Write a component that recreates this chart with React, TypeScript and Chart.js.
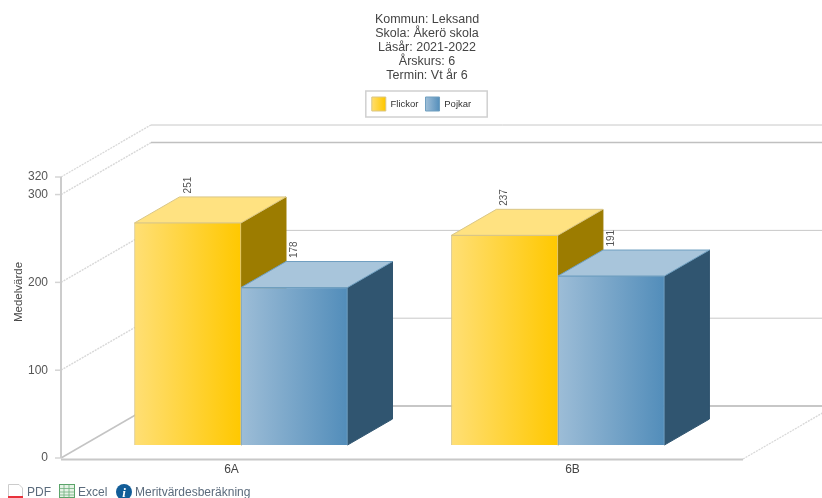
import React, { useEffect, useRef } from "react";
import { Chart, registerables, layouts } from "chart.js";

Chart.register(...registerables);

const categories = ["6A", "6B"];
const flickor = [251, 237];
const pojkar = [178, 191];
const yTickValues = [0, 100, 200, 300, 320];
const titleLines = ["Kommun: Leksand", "Skola: Åkerö skola", "Läsår: 2021-2022", "Årskurs: 6", "Termin: Vt år 6"];
const yAxisTitle = "Medelvärde";
const seriesNames = ["Flickor", "Pojkar"];

const FONT = "'Liberation Sans', Arial, sans-serif";
const WALL = { dx: 90, dy: -52 };
const BAR = { dx: 45, dy: -26 };
const LEGEND_SHIFT = 5.5;
const palette = [
  { from: "#ffdf75", to: "#ffc800", top: "#ffe281", side: "#9c7c00", line: "#d9c687" },
  { from: "#9dbdd7", to: "#528dba", top: "#a8c5db", side: "#305570", line: "#6f9fc0" },
];

function poly(ctx: CanvasRenderingContext2D, pts: number[][], fill: string, stroke: string) {
  ctx.beginPath();
  pts.forEach((p, i) => (i ? ctx.lineTo(p[0], p[1]) : ctx.moveTo(p[0], p[1])));
  ctx.closePath();
  ctx.fillStyle = fill;
  ctx.fill();
  ctx.strokeStyle = stroke;
  ctx.lineWidth = 1;
  ctx.stroke();
}

function line(ctx: CanvasRenderingContext2D, x0: number, y0: number, x1: number, y1: number, c: string, w: number, dash: number[] = []) {
  ctx.beginPath();
  ctx.setLineDash(dash);
  ctx.moveTo(x0, y0);
  ctx.lineTo(x1, y1);
  ctx.strokeStyle = c;
  ctx.lineWidth = w;
  ctx.stroke();
  ctx.setLineDash([]);
}

function spacer(position: string, w: number, h: number) {
  return {
    position,
    weight: 100,
    fullSize: position === "top",
    options: {},
    height: h,
    width: w,
    isHorizontal: () => position === "top",
    update() {},
    draw() {},
  } as any;
}

const threeD = {
  id: "threeD",
  beforeInit(chart: any) {
    layouts.addBox(chart, spacer("top", 854, 56));
    layouts.addBox(chart, spacer("right", 111, 0));
  },
  beforeDraw(chart: any) {
    chart.legend.left -= LEGEND_SHIFT;
    chart.legend.right -= LEGEND_SHIFT;
  },
  beforeDatasetsDraw(chart: any) {
    const ctx: CanvasRenderingContext2D = chart.ctx;
    const y = chart.scales.y;
    const x = chart.scales.x;
    const left = x.left;
    const right = x.right;
    ctx.save();
    yTickValues.forEach((v) => {
      const py = y.getPixelForValue(v);
      const base = v === 0;
      if (base) line(ctx, left, py, left + WALL.dx, py + WALL.dy, "#c4c4c4", 1.5);
      else line(ctx, left, py, left + WALL.dx, py + WALL.dy, "#d8d8d8", 1.4, [2, 1]);
      line(ctx, left + WALL.dx, py + WALL.dy, chart.width, py + WALL.dy, v === 0 ? "#b4b4b4" : v === 300 ? "#c0c0c0" : "#c8c8c8", v === 0 || v === 300 ? 1.6 : 1);
      line(ctx, left - 6, py, left, py, "#d4d4d4", 1.5);
    });
    const py0 = y.getPixelForValue(0);
    line(ctx, right, py0 + 1, right + WALL.dx, py0 + 1 + WALL.dy, "#d8d8d8", 1.4, [2, 1]);
    line(ctx, left, y.getPixelForValue(320), left, py0, "#cccccc", 2);
    line(ctx, left, py0 + 1.5, right, py0 + 1.5, "#c8c8c8", 2);

    [0, 1].forEach((di) => {
      const c = palette[di];
      chart.getDatasetMeta(di).data.forEach((el: any) => {
        const l = el.x - el.width / 2;
        const r = el.x + el.width / 2;
        const t = el.y;
        const b = el.base;
        poly(ctx, [[r, t], [r + BAR.dx, t + BAR.dy], [r + BAR.dx, b + BAR.dy], [r, b]], c.side, c.side);
        poly(ctx, [[l, t], [l + BAR.dx, t + BAR.dy], [r + BAR.dx, t + BAR.dy], [r, t]], c.top, c.line);
        const g = ctx.createLinearGradient(l, 0, r, 0);
        g.addColorStop(0, c.from);
        g.addColorStop(1, c.to);
        el.options = { ...el.options, backgroundColor: g };
      });
    });
    ctx.restore();
  },
  afterDatasetsDraw(chart: any) {
    const ctx: CanvasRenderingContext2D = chart.ctx;
    ctx.save();
    ctx.fillStyle = "#555";
    ctx.font = `10px ${FONT}`;
    ctx.textAlign = "left";
    ctx.textBaseline = "middle";
    [flickor, pojkar].forEach((vals, di) => {
      chart.getDatasetMeta(di).data.forEach((el: any, i: number) => {
        ctx.save();
        ctx.translate(el.x, el.y + BAR.dy - 3.5);
        ctx.rotate(-Math.PI / 2);
        ctx.fillText(String(vals[i]), 0, 0);
        ctx.restore();
      });
    });
    ctx.save();
    ctx.translate(19, 292);
    ctx.rotate(-Math.PI / 2);
    ctx.textAlign = "center";
    ctx.fillStyle = "#444";
    ctx.font = `11.5px ${FONT}`;
    ctx.fillText(yAxisTitle, 0, 0);
    ctx.restore();
    ctx.restore();
  },
  afterDraw(chart: any) {
    const ctx: CanvasRenderingContext2D = chart.ctx;
    const hits = chart.legend.legendHitBoxes;
    const first = hits[0];
    const last = hits[hits.length - 1];
    const cy = first.top + first.height / 2;
    const l = first.left - 6 - LEGEND_SHIFT;
    const r = last.left + last.width + 16 - LEGEND_SHIFT;
    ctx.save();
    ctx.strokeStyle = "#d0d0d0";
    ctx.lineWidth = 1.5;
    ctx.strokeRect(l, cy - 13, r - l, 26);
    ctx.restore();
  },
};

export default function App() {
  const ref = useRef<HTMLCanvasElement>(null);
  useEffect(() => {
    const canvas = ref.current!;
    const gctx = canvas.getContext("2d")!;
    const swatch = (i: number, x: number) => {
      const g = gctx.createLinearGradient(x, 0, x + 14, 0);
      g.addColorStop(0, palette[i].from);
      g.addColorStop(1, palette[i].to);
      return g;
    };
    const chart = new Chart(canvas, {
      type: "bar",
      data: {
        labels: categories,
        datasets: [
          {
            label: seriesNames[0],
            data: flickor.map((y, i) => ({ x: i, y })),
            xAxisID: "xb",
            yAxisID: "yb",
            backgroundColor: palette[0].to,
            borderColor: palette[0].line,
            borderWidth: 1,
            barThickness: 106.5,
          },
          {
            label: seriesNames[1],
            data: pojkar.map((y, i) => ({ x: i, y })),
            xAxisID: "xb",
            yAxisID: "yb",
            backgroundColor: palette[1].to,
            borderColor: palette[1].line,
            borderWidth: 1,
            barThickness: 106.5,
          },
        ],
      } as any,
      options: {
        animation: false,
        responsive: false,
        layout: { padding: { left: 0, right: 0, top: 13, bottom: 0 } },
        plugins: {
          tooltip: { enabled: false },
          title: {
            display: true,
            text: titleLines,
            color: "#444",
            font: { family: FONT, size: 12.5, weight: "normal", lineHeight: 14 / 12.5 },
            padding: { top: 0, bottom: 7 },
          },
          legend: {
            display: true,
            position: "top",
            onClick: undefined,
            labels: {
              boxWidth: 14,
              boxHeight: 14,
              padding: 7,
              color: "#333",
              font: { family: FONT, size: 9.5 },
              generateLabels: () =>
                seriesNames.map((text, i) => ({
                  text,
                  fillStyle: swatch(i, i === 0 ? 371 : 426),
                  strokeStyle: palette[i].line,
                  lineWidth: 1,
                  datasetIndex: i,
                  fontColor: "#333",
                })),
            },
          },
        },
        scales: {
          x: {
            type: "category",
            axis: "x",
            offset: true,
            grid: { display: false, tickLength: 4 },
            border: { display: false },
            ticks: { color: "#444", font: { family: FONT, size: 12 }, padding: 0 },
            afterFit: (s: any) => {
              s.height = 40;
            },
          },
          y: {
            type: "linear",
            axis: "y",
            min: 0,
            max: 320,
            grid: { display: false },
            border: { display: false },
            afterBuildTicks: (s: any) => {
              s.ticks = yTickValues.map((value) => ({ value }));
            },
            ticks: { color: "#555", font: { family: FONT, size: 12 }, padding: 5, autoSkip: false, maxRotation: 0 },
            afterFit: (s: any) => {
              s.width = 61;
            },
          },
          xb: { type: "linear", axis: "x", display: false, offset: false, min: -0.568, max: 1.584 },
          yb: { type: "linear", axis: "y", display: false, min: -14.64, max: 302.9 },
        },
      } as any,
      plugins: [threeD],
    });
    return () => chart.destroy();
  }, []);

  const linkStyle: React.CSSProperties = {
    position: "absolute",
    top: 485,
    font: `12px ${FONT}`,
    color: "#5b6b7c",
    lineHeight: "14px",
    whiteSpace: "nowrap",
  };
  return (
    <div style={{ position: "fixed", left: 0, top: 0, width: 822, height: 498, overflow: "hidden", background: "#fff" }}>
      <canvas ref={ref} width={854} height={498} style={{ display: "block", width: 854, height: 498, filter: "blur(0.35px)" }} />
      <svg width="140" height="14" style={{ position: "absolute", left: 0, top: 484 }}>
        <path d="M8.5 0.5H19L22.5 4V13.5H8.5Z" fill="#fff" stroke="#ccc" />
        <rect x="8" y="12" width="15" height="2" fill="#e8323c" />
        <rect x="59.5" y="0.5" width="15" height="13" fill="#e6f2e6" stroke="#5aa469" />
        <path d="M59.5 4.5H74.5M59.5 8H74.5M59.5 11H74.5M64 0.5V13.5M69 0.5V13.5" stroke="#6fb07e" strokeWidth="0.8" />
        <circle cx="124" cy="8" r="8" fill="#125d98" />
        <text x="124" y="13" textAnchor="middle" fill="#fff" fontFamily="Liberation Serif" fontStyle="italic" fontWeight="bold" fontSize="13">i</text>
      </svg>
      <span style={{ ...linkStyle, left: 27 }}>PDF</span>
      <span style={{ ...linkStyle, left: 78 }}>Excel</span>
      <span style={{ ...linkStyle, left: 135 }}>Meritvärdesberäkning</span>
    </div>
  );
}
